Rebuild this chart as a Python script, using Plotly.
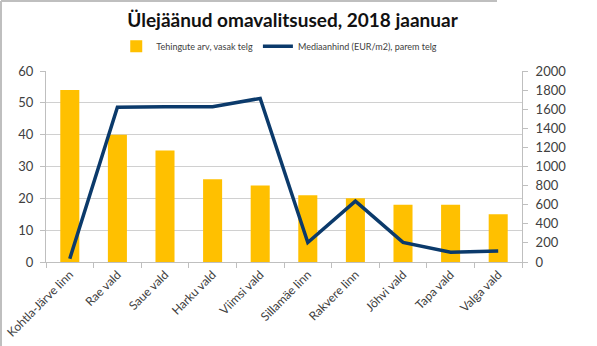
import plotly.graph_objects as go

categories = ["Kohtla-Järve linn", "Rae vald", "Saue vald", "Harku vald", "Viimsi vald",
              "Sillamäe linn", "Rakvere linn", "Jõhvi vald", "Tapa vald", "Valga vald"]
tehingute_arv = [54, 40, 35, 26, 24, 21, 20, 18, 18, 15]
mediaanhind = [35, 1620, 1625, 1625, 1713, 204, 638, 205, 102, 116]
left_ticks = [0, 10, 20, 30, 40, 50, 60]
right_ticks = [0, 200, 400, 600, 800, 1000, 1200, 1400, 1600, 1800, 2000]

font = "Lato, 'Open Sans', sans-serif"

fig = go.Figure()
fig.add_trace(go.Bar(
    x=categories, y=tehingute_arv, name="Tehingute arv, vasak telg",
    marker=dict(color="#FFC000", line=dict(width=0)), yaxis="y"))
fig.add_trace(go.Scatter(
    x=categories, y=mediaanhind, name="Mediaanhind (EUR/m2), parem telg",
    mode="lines", line=dict(color="#0B3A6B", width=3.5), yaxis="y2"))

fig.update_layout(
    width=597, height=346,
    margin=dict(l=46, r=75, t=71, b=84),
    paper_bgcolor="white", plot_bgcolor="white",
    bargap=0.6,
    font=dict(family=font, size=12, color="#404040"),
    title=dict(text="Ülejäänud omavalitsused, 2018 jaanuar",
               x=0.49, xanchor="center", y=0.94, yanchor="middle",
               font=dict(family=font, size=19, color="#111111", weight="bold")),
    legend=dict(orientation="h", x=0.49, xanchor="center", y=1.13, yanchor="middle",
                font=dict(size=9, color="#404040"), itemwidth=30,
                bgcolor="rgba(0,0,0,0)", traceorder="normal"),
    showlegend=True,
    xaxis=dict(type="category", tickangle=-45, showline=True, linecolor="#BFBFBF",
               linewidth=1, ticks="outside", tickson="boundaries", tickcolor="#BFBFBF",
               ticklen=5, showgrid=False, automargin=False,
               tickfont=dict(size=12, color="#404040")),
    yaxis=dict(range=[0, 60], tickvals=left_ticks, showgrid=True, gridcolor="#D0D0D0",
               gridwidth=1, showline=True, linecolor="#BFBFBF", ticks="outside",
               tickcolor="#BFBFBF", ticklen=5, zeroline=False, automargin=False,
               ticklabelstandoff=4,
               tickfont=dict(size=13, color="#404040")),
    yaxis2=dict(range=[0, 2000], tickvals=right_ticks, overlaying="y", side="right",
                showgrid=False, showline=True, linecolor="#BFBFBF", ticks="outside",
                tickcolor="#BFBFBF", ticklen=5, zeroline=False, automargin=False,
                ticklabelstandoff=5,
                tickfont=dict(size=13, color="#404040")),
)

# outer frame fragments visible in the reference (left and top edges)
fig.add_shape(type="line", xref="paper", yref="paper", x0=-45/476, x1=-45/476,
              y0=-84/191, y1=1 + 70/191, line=dict(color="#BFBFBF", width=2))
fig.add_shape(type="line", xref="paper", yref="paper", x0=-45/476, x1=(497-46)/476,
              y0=1 + 70/191, y1=1 + 70/191, line=dict(color="#BFBFBF", width=2))

fig.write_html("out.html")
